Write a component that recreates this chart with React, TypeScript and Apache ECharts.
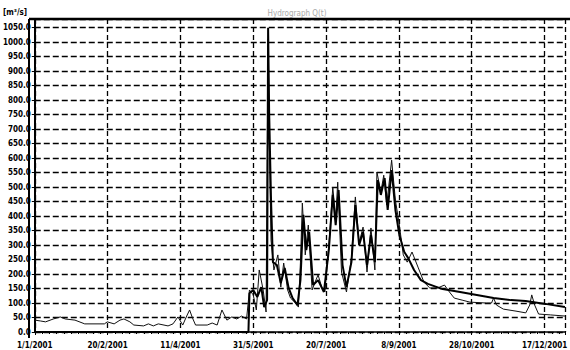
import React, { useEffect, useRef } from "react";
import * as echarts from "echarts";

// x = day of year (0 = 1/1), y = discharge [m³/s]
const simPoints: [number, number][] = [
  [0, 0], [146.7, 0], [147.4, 134], [150, 145], [152.8, 121], [155.5, 155], [157.5, 86],
  [159.5, 110], [160.2, 1050], [160.9, 760], [162.2, 455], [163.5, 241], [166.2, 231],
  [168.9, 169], [171.6, 221], [174.3, 152], [177, 117], [180.4, 93], [182.4, 179],
  [184.4, 404], [186.4, 283], [188.4, 345], [191.1, 162], [194.5, 179], [198.5, 138],
  [201.9, 283], [204.6, 473], [206.6, 369], [208.6, 490], [211.3, 231], [214, 155],
  [217.4, 241], [220.1, 438], [222.7, 300], [225.4, 345], [228.1, 231], [230.8, 335],
  [233.5, 241], [235.5, 524], [237.6, 473], [240.2, 531], [242.3, 421], [245, 559],
  [247.6, 421], [250.3, 335], [253.7, 276], [256.4, 255], [260.4, 214], [265.1, 179],
  [269.9, 166], [280, 148], [292, 138], [303.5, 128], [315, 117], [327, 110], [337, 107],
  [350.6, 97], [364, 86],
];

const obsPoints: [number, number][] = [
  [0, 41], [4, 38], [7.4, 35], [12.8, 45], [17.5, 52], [20.9, 45], [27.6, 41], [34.3, 28],
  [47.8, 28], [49.8, 35], [54.5, 28], [58.5, 41], [61.2, 45], [65.3, 35], [68, 24],
  [74.7, 21], [78, 28], [81.4, 21], [84.8, 28], [91.5, 21], [94.9, 28], [98.3, 52],
  [101.6, 24], [104.3, 55], [106.3, 76], [108.3, 48], [110.4, 24], [118.4, 24], [121.8, 31],
  [125.2, 24], [128.5, 76], [131.9, 41], [135.3, 52], [138.6, 45], [142, 55], [145.4, 45],
  [147.4, 145], [150, 128], [152.1, 76], [154.1, 214], [156.8, 145], [158.8, 69],
  [160.2, 1010], [161.2, 600], [162.2, 317], [164.2, 214], [166.9, 266], [168.9, 155],
  [170.9, 238], [173.6, 145], [175.6, 117], [179, 100], [181, 86], [182.4, 241],
  [183.7, 445], [185.7, 266], [187.8, 369], [190.4, 145], [192.5, 173], [194.5, 197],
  [197.2, 152], [199.2, 138], [202.6, 345], [204.6, 500], [206.6, 393], [208, 517],
  [210.6, 207], [214, 138], [217.4, 255], [220.1, 466], [222.7, 307], [225.4, 362],
  [228.1, 207], [230.8, 359], [233.5, 214], [234.9, 552], [237.6, 483], [239.6, 541],
  [241.6, 438], [245, 593], [247.6, 455], [250.3, 369], [253, 266], [255.7, 241],
  [259, 276], [263.1, 224], [267.2, 172], [271.2, 152], [276.6, 152], [281.3, 162],
  [284.7, 138], [288, 117], [293.4, 110], [298.8, 103], [310.2, 100], [313.6, 100],
  [315, 117], [317, 93], [321.7, 79], [330.4, 72], [337.1, 66], [339.8, 93], [341.2, 128],
  [343.2, 93], [345.9, 62], [354, 59], [364, 55],
];

const startYear = 2001;
const unitLabel = "[m³/s]";
const chartTitle = "Hydrograph Q(t)";

const FONT = "'Liberation Sans Narrow', 'DejaVu Sans Condensed', sans-serif";

function dayToDate(d: number): string {
  const t = new Date(Date.UTC(startYear, 0, 1) + Math.round(d) * 86400000);
  return `${t.getUTCDate()}/${t.getUTCMonth() + 1}/${t.getUTCFullYear()}`;
}

export default function App() {
  const ref = useRef<HTMLDivElement>(null);
  useEffect(() => {
    if (!ref.current) return;
    const chart = echarts.init(ref.current, undefined, { renderer: "svg" });
    chart.setOption({
      animation: false,
      backgroundColor: "#ffffff",
      grid: { left: 29, right: 0, top: 19, bottom: 18, containLabel: false },
      xAxis: {
        type: "value",
        min: 0,
        max: 364,
        interval: 50,
        offset: 6,
        axisLine: { show: true, lineStyle: { color: "#000", width: 1.5 } },
        axisTick: { show: true, length: 3, lineStyle: { color: "#000" } },
        minorTick: { show: true, splitNumber: 10, length: 2, lineStyle: { color: "#000" } },
        axisLabel: {
          color: "#000",
          fontFamily: FONT,
          fontWeight: "bold",
          fontSize: 8,
          margin: 3,
          formatter: (v: number) => dayToDate(v),
        },
        splitLine: { show: true, lineStyle: { color: "#000", width: 1.3, type: [5, 3] } },
      },
      yAxis: {
        type: "value",
        min: 0,
        max: 1080,
        interval: 50,
        axisLine: { show: true, lineStyle: { color: "#000", width: 2 } },
        axisTick: { show: true, length: 3, lineStyle: { color: "#000" } },
        axisLabel: {
          color: "#000",
          fontFamily: FONT,
          fontWeight: "bold",
          fontSize: 8,
          margin: 4,
          showMaxLabel: false,
          formatter: (v: number) => (v > 1050 ? "" : v.toFixed(1)),
        },
        splitLine: { show: true, lineStyle: { color: "#000", width: 1.3, type: [6, 3] } },
      },
      graphic: [
        { type: "line", shape: { x1: 29, y1: 19, x2: 570, y2: 19 }, style: { stroke: "#000", lineWidth: 2.5 }, z: 100 },
        { type: "line", shape: { x1: 29, y1: 19, x2: 29, y2: 338 }, style: { stroke: "#000", lineWidth: 2 }, z: 100 },
        {
          type: "text",
          x: 3,
          y: 12,
          style: { text: unitLabel, fill: "#000", font: `bold 8px ${FONT}`, verticalAlign: "middle" },
        },
        {
          type: "text",
          x: 297,
          y: 13,
          style: { text: chartTitle, fill: "#aaa", font: `8px ${FONT}`, align: "center", verticalAlign: "middle" },
        },
      ],
      series: [
        {
          type: "line",
          data: obsPoints,
          symbol: "none",
          lineStyle: { color: "#111", width: 1 },
          z: 3,
        },
        {
          type: "line",
          data: simPoints,
          symbol: "none",
          lineStyle: { color: "#000", width: 2 },
          z: 4,
        },
      ],
    });
    return () => chart.dispose();
  }, []);
  return (
    <div
      ref={ref}
      style={{ position: "fixed", left: 0, top: 0, width: 570, height: 350, background: "#fff" }}
    />
  );
}
